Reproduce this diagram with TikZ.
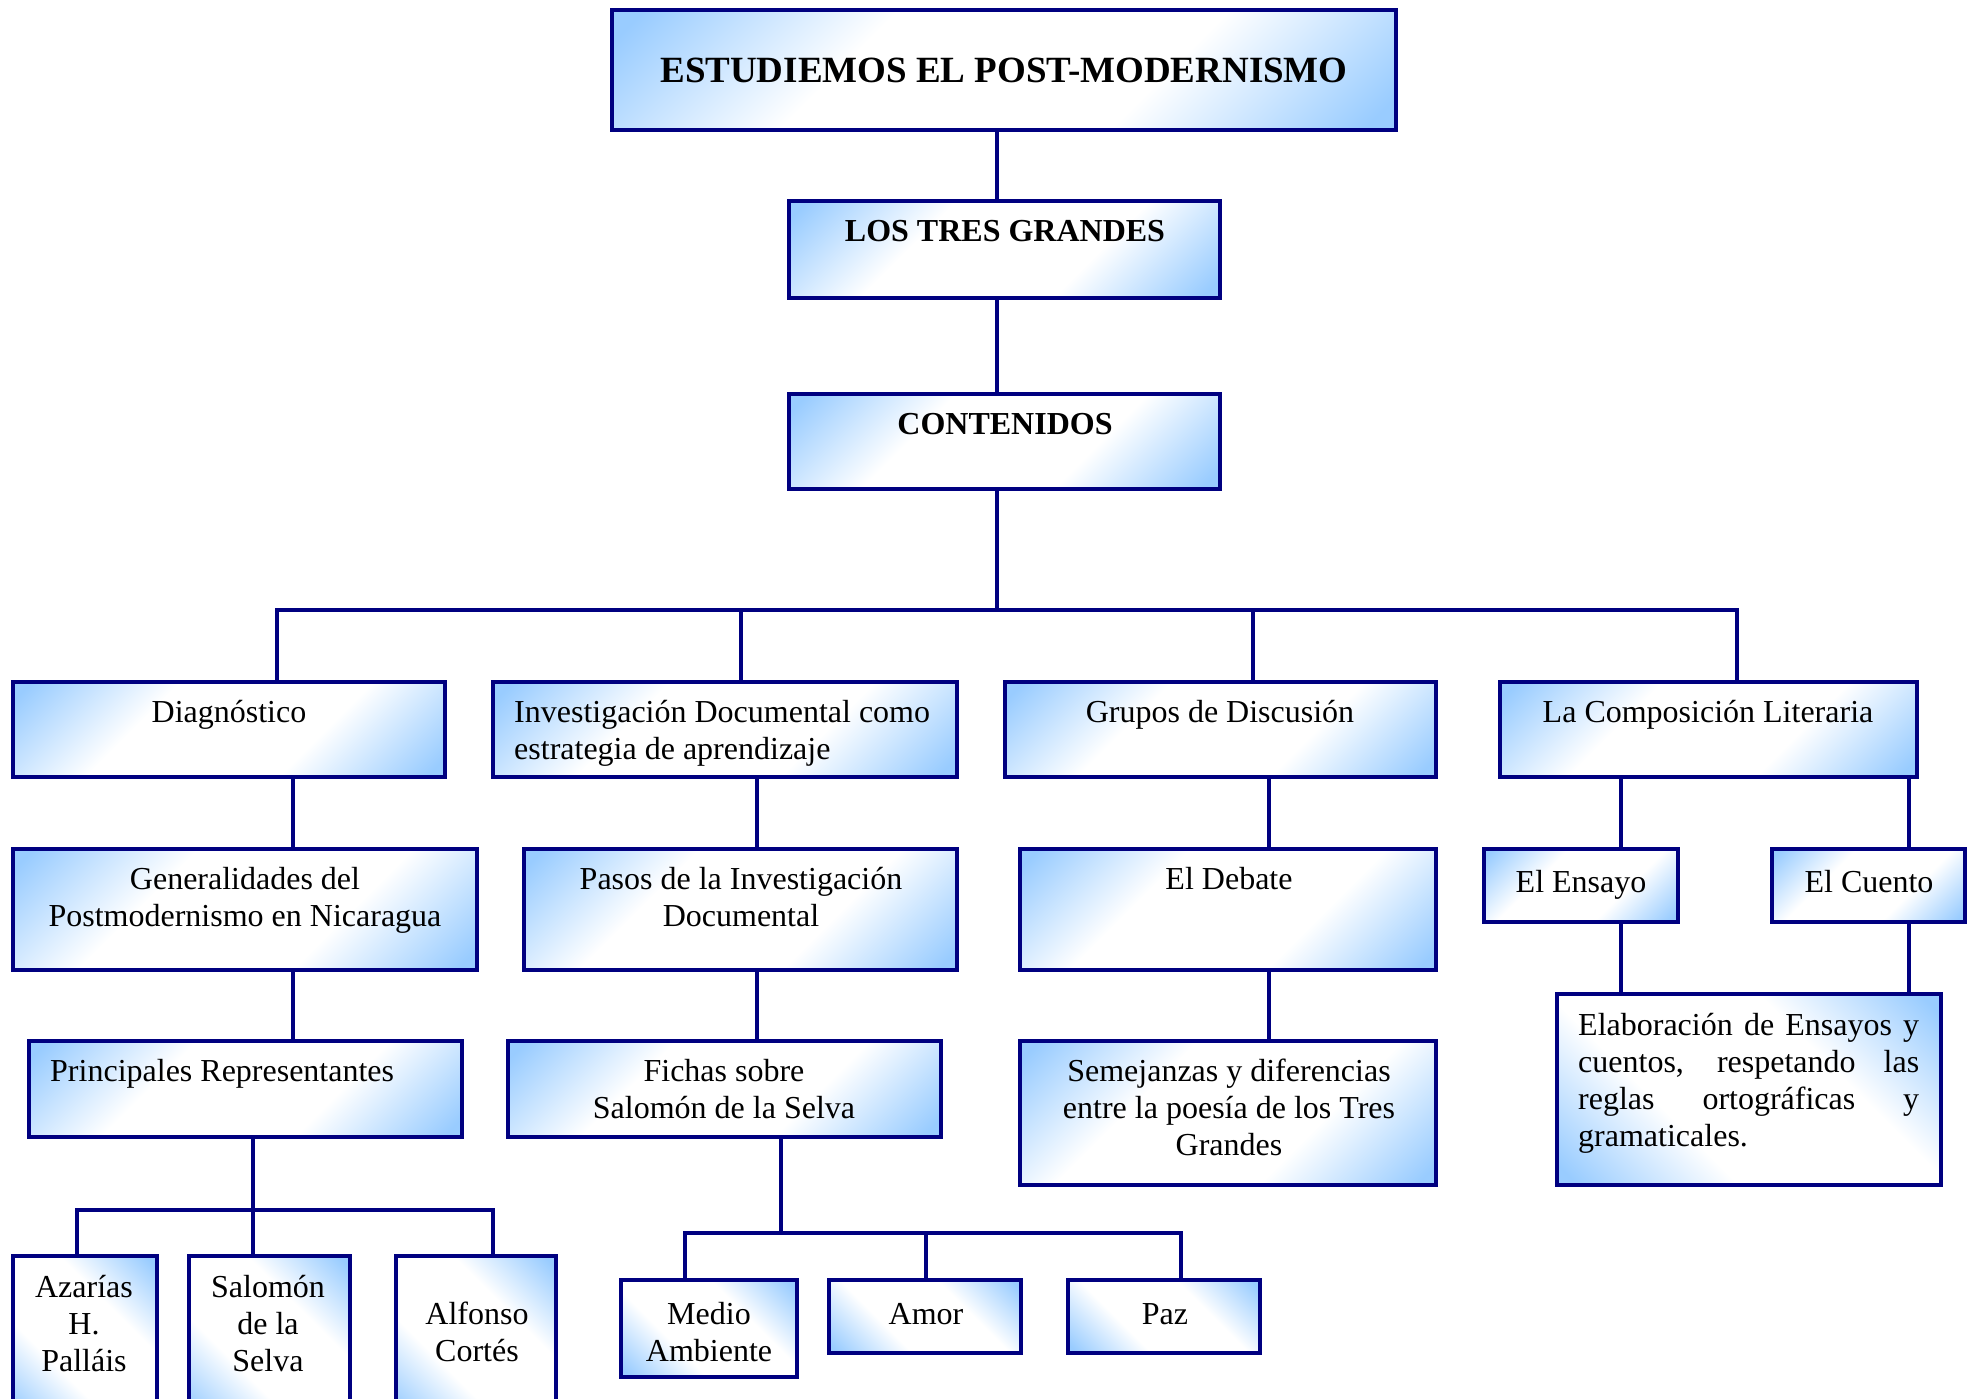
\documentclass[tikz,border=0pt]{standalone}
\usepackage{fontspec}
\setmainfont{Liberation Serif}
\usetikzlibrary{calc}
\definecolor{navy}{RGB}{0,0,128}
\definecolor{lb}{RGB}{153,204,255}
\pgfdeclareverticalshading{boxsh}{100bp}{color(0bp)=(lb); color(17bp)=(lb); color(37bp)=(white); color(63bp)=(white); color(83bp)=(lb); color(100bp)=(lb)}
\tikzset{
  box/.style={rectangle, draw=navy, line width=4pt, inner sep=0pt, outer sep=0pt,
    shade, shading=boxsh, shading angle=45},
  boxr/.style={box, shading angle=-45},
  txt/.style={font=\fontsize{32}{37}\selectfont, inner sep=0pt, anchor=base},
  ttl/.style={txt, font=\fontsize{32}{37}\selectfont\bfseries},
  conn/.style={draw=navy, line width=4pt, line cap=rect},
}
\newcommand\bx[6]{\node[#2, minimum width={#5-#3}, minimum height={#6-#4}] (#1) at ({(#3+#5)/2},{(#4+#6)/2}) {};}
\newcommand\lns[2]{\begin{tabular}[t]{@{}#1@{}}#2\end{tabular}}
\begin{document}
\begin{tikzpicture}[x=1pt,y=-1pt]
\useasboundingbox (0,0) rectangle (1972,1399);
\fill[white] (0,0) rectangle (1972,1399);
\clip (0,0) rectangle (1972,1399);
% boxes
\bx{title}{box}{612}{10}{1396}{130}
\bx{los}{box}{789}{201}{1220}{298}
\bx{cont}{box}{789}{394}{1220}{489}
\bx{diag}{box}{13}{682}{445}{777}
\bx{inv}{box}{493}{682}{957}{777}
\bx{grp}{box}{1005}{682}{1436}{777}
\bx{comp}{box}{1500}{682}{1917}{777}
\bx{gen}{box}{13}{849}{477}{970}
\bx{pas}{box}{524}{849}{957}{970}
\bx{deb}{box}{1020}{849}{1436}{970}
\bx{ens}{box}{1484}{849}{1678}{922}
\bx{cue}{box}{1772}{849}{1965}{922}
\bx{pri}{box}{29}{1041}{462}{1137}
\bx{fic}{box}{508}{1041}{941}{1137}
\bx{sem}{box}{1020}{1041}{1436}{1185}
\bx{ela}{boxr}{1557}{994}{1941}{1185}
\bx{aza}{boxr}{13}{1256}{157}{1420}
\bx{sal}{boxr}{189}{1256}{350}{1420}
\bx{alf}{boxr}{396}{1256}{556}{1420}
\bx{med}{boxr}{621}{1280}{797}{1377}
\bx{amo}{boxr}{829}{1280}{1021}{1353}
\bx{paz}{boxr}{1068}{1280}{1260}{1353}
% texts
\node[ttl, font=\fontsize{37}{42}\selectfont\bfseries] (t-title) at (1004,83) {ESTUDIEMOS EL POST-MODERNISMO};
\node[ttl] (t-los) at (1005,241) {LOS TRES GRANDES};
\node[ttl] (t-cont) at (1005,434) {CONTENIDOS};
\node[txt] (t-diag) at (229,722) {Diagnóstico};
\node[txt, anchor=base west] (t-inv) at (514,722) {\lns{l}{Investigación Documental como\\estrategia de aprendizaje}};
\node[txt] (t-grp) at (1220,722) {Grupos de Discusión};
\node[txt] (t-comp) at (1708,722) {La Composición Literaria};
\node[txt] (t-gen) at (245,889) {\lns{c}{Generalidades del\\Postmodernismo en Nicaragua}};
\node[txt] (t-pas) at (741,889) {\lns{c}{Pasos de la Investigación\\Documental}};
\node[txt] (t-deb) at (1229,889) {El Debate};
\node[txt] (t-ens) at (1581,892) {El Ensayo};
\node[txt] (t-cue) at (1869,892) {El Cuento};
\node[txt, anchor=base west] (t-pri) at (50,1081) {Principales Representantes};
\node[txt] (t-fic) at (724,1081) {\lns{c}{Fichas sobre\\Salomón de la Selva}};
\node[txt] (t-sem) at (1229,1081) {\lns{c}{Semejanzas y diferencias\\entre la poesía de los Tres\\Grandes}};
\node[txt, anchor=base west] (t-ela) at (1578,1035) {\lns{l}{\makebox[341pt][s]{Elaboración de Ensayos y}\\\makebox[341pt][s]{cuentos, respetando las}\\\makebox[341pt][s]{reglas ortográficas y}\\gramaticales.}};
\node[txt] (t-aza) at (84,1297) {\lns{c}{Azarías\\H.\\Palláis}};
\node[txt] (t-sal) at (268,1297) {\lns{c}{Salomón\\de la\\Selva}};
\node[txt] (t-alf) at (477,1324) {\lns{c}{Alfonso\\Cortés}};
\node[txt] (t-med) at (709,1324) {\lns{c}{Medio\\Ambiente}};
\node[txt] (t-amo) at (926,1324) {Amor};
\node[txt] (t-paz) at (1165,1324) {Paz};
% connector coordinates
\coordinate (v0) at (997,0);
\coordinate (bus) at (0,610);
\coordinate (d1) at (277,0);
\coordinate (d2) at (741,0);
\coordinate (d3) at (1253,0);
\coordinate (d4) at (1737,0);
\coordinate (k1) at (293,0);
\coordinate (k2) at (757,0);
\coordinate (k3) at (1269,0);
\coordinate (k4) at (1621,0);
\coordinate (k5) at (1909,0);
\coordinate (pbus) at (0,1210);
\coordinate (pd) at (253,0);
\coordinate (pa) at (77,0);
\coordinate (pf) at (493,0);
\coordinate (qbus) at (0,1233);
\coordinate (qd) at (781,0);
\coordinate (qm) at (685,0);
\coordinate (qa) at (926,0);
\coordinate (qp) at (1181,0);
% connectors
\draw[conn] (title.south -| v0) -- (los.north -| v0);
\draw[conn] (los.south -| v0) -- (cont.north -| v0);
\draw[conn] (cont.south -| v0) -- (v0 |- bus);
\draw[conn] (diag.north -| d1) -- (d1 |- bus) -- (d4 |- bus) -- (comp.north -| d4);
\draw[conn] (inv.north -| d2) -- (d2 |- bus);
\draw[conn] (grp.north -| d3) -- (d3 |- bus);
\draw[conn] (diag.south -| k1) -- (gen.north -| k1);
\draw[conn] (inv.south -| k2) -- (pas.north -| k2);
\draw[conn] (grp.south -| k3) -- (deb.north -| k3);
\draw[conn] (comp.south -| k4) -- (ens.north -| k4);
\draw[conn] (comp.south -| k5) -- (cue.north -| k5);
\draw[conn] (gen.south -| k1) -- (pri.north -| k1);
\draw[conn] (pas.south -| k2) -- (fic.north -| k2);
\draw[conn] (deb.south -| k3) -- (sem.north -| k3);
\draw[conn] (ens.south -| k4) -- (ela.north -| k4);
\draw[conn] (cue.south -| k5) -- (ela.north -| k5);
\draw[conn] (pri.south -| pd) -- (sal.north -| pd);
\draw[conn] (aza.north -| pa) -- (pa |- pbus) -- (pf |- pbus) -- (alf.north -| pf);
\draw[conn] (fic.south -| qd) -- (qd |- qbus);
\draw[conn] (med.north -| qm) -- (qm |- qbus) -- (qp |- qbus) -- (paz.north -| qp);
\draw[conn] (amo.north -| qa) -- (qa |- qbus);
\end{tikzpicture}
\end{document}
